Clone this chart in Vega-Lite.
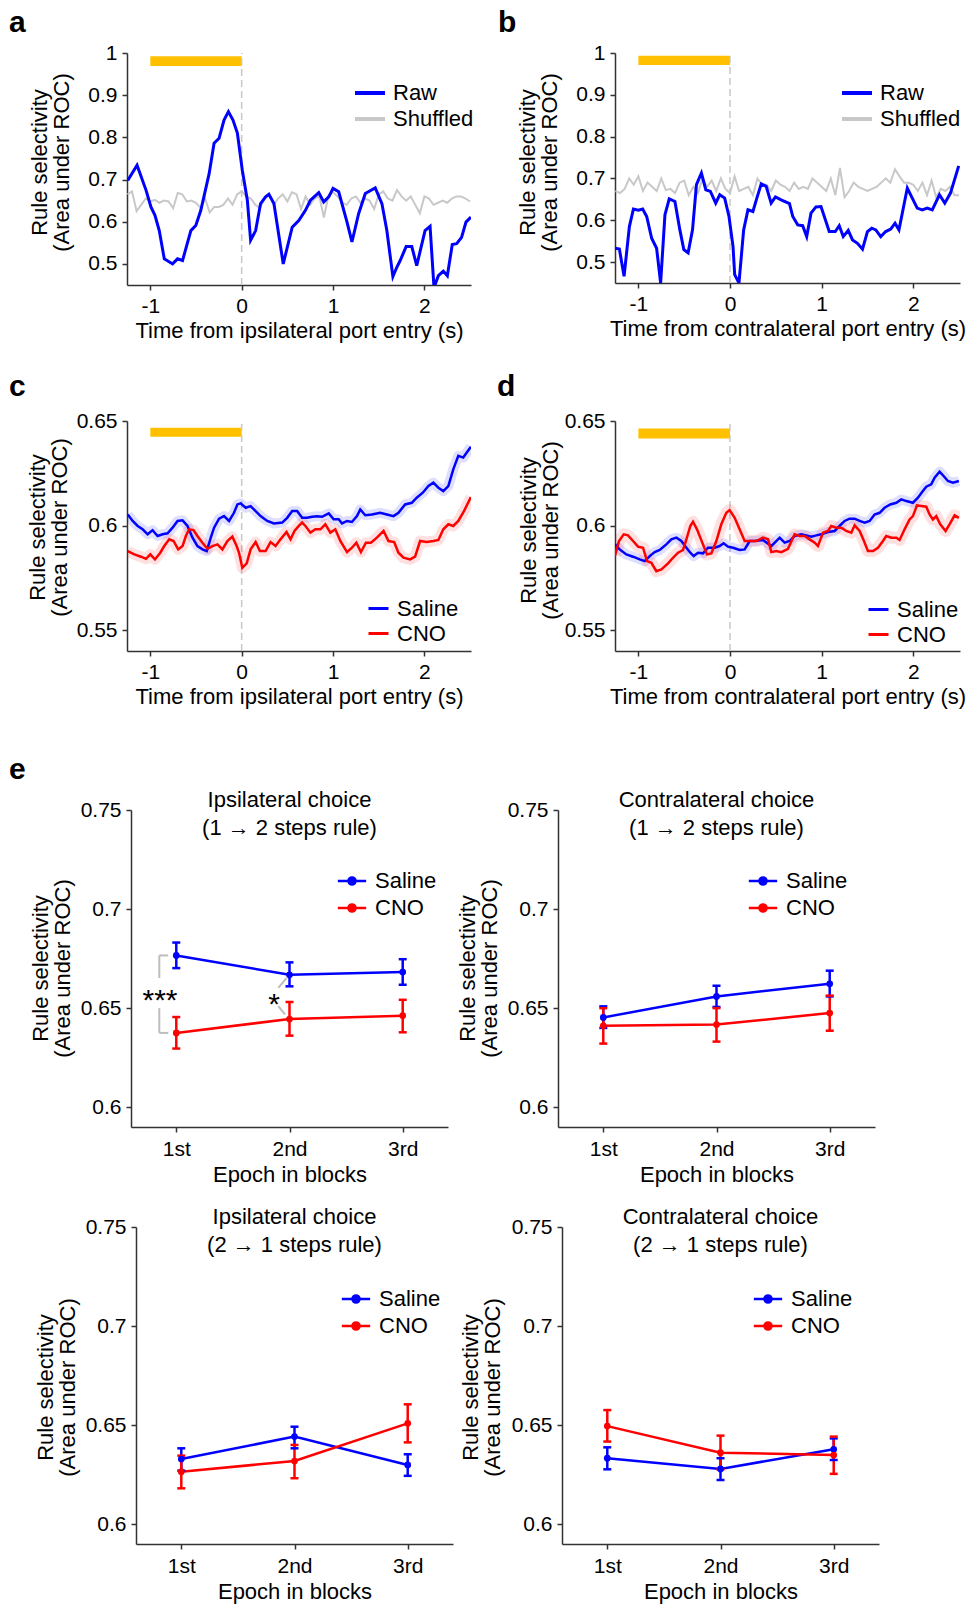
{
"$schema": "https://vega.github.io/schema/vega-lite/v6.json",
"background": "white",
"padding": {"left": 9, "top": 8, "right": 4, "bottom": 4},
"config": {
 "font": "Liberation Sans",
 "view": {"stroke": null},
 "axis": {"domainColor": "#333333", "domainWidth": 1.5, "tickColor": "#333333", "tickWidth": 1.5, "tickSize": 5, "labelFont": "Liberation Sans", "labelFontSize": 21, "labelColor": "#000000", "titleFont": "Liberation Sans", "titleFontSize": 22, "titleFontWeight": "normal", "titleColor": "#000000", "grid": false, "labelPadding": 5, "titlePadding": 4, "labelFlush": false, "labelOverlap": false},
 "legend": {"labelFont": "Liberation Sans", "labelFontSize": 22, "labelColor": "#000000", "padding": 0},
 "title": {"font": "Liberation Sans", "fontSize": 22, "fontWeight": "normal", "color": "#000000"}
},
"datasets": {
 "a_raw": [{"t":-1.247,"v":0.698,"s":"Raw"},{"t":-1.145,"v":0.734,"s":"Raw"},{"t":-1.047,"v":0.675,"s":"Raw"},{"t":-0.993,"v":0.635,"s":"Raw"},{"t":-0.949,"v":0.615,"s":"Raw"},{"t":-0.902,"v":0.579,"s":"Raw"},{"t":-0.847,"v":0.512,"s":"Raw"},{"t":-0.756,"v":0.5,"s":"Raw"},{"t":-0.702,"v":0.512,"s":"Raw"},{"t":-0.647,"v":0.508,"s":"Raw"},{"t":-0.556,"v":0.579,"s":"Raw"},{"t":-0.502,"v":0.591,"s":"Raw"},{"t":-0.447,"v":0.627,"s":"Raw"},{"t":-0.356,"v":0.714,"s":"Raw"},{"t":-0.302,"v":0.786,"s":"Raw"},{"t":-0.247,"v":0.798,"s":"Raw"},{"t":-0.193,"v":0.841,"s":"Raw"},{"t":-0.145,"v":0.861,"s":"Raw"},{"t":-0.095,"v":0.841,"s":"Raw"},{"t":-0.047,"v":0.81,"s":"Raw"},{"t":0.007,"v":0.722,"s":"Raw"},{"t":0.062,"v":0.651,"s":"Raw"},{"t":0.098,"v":0.556,"s":"Raw"},{"t":0.153,"v":0.579,"s":"Raw"},{"t":0.207,"v":0.643,"s":"Raw"},{"t":0.262,"v":0.659,"s":"Raw"},{"t":0.298,"v":0.665,"s":"Raw"},{"t":0.353,"v":0.643,"s":"Raw"},{"t":0.455,"v":0.5,"s":"Raw"},{"t":0.553,"v":0.587,"s":"Raw"},{"t":0.625,"v":0.603,"s":"Raw"},{"t":0.698,"v":0.627,"s":"Raw"},{"t":0.753,"v":0.651,"s":"Raw"},{"t":0.844,"v":0.669,"s":"Raw"},{"t":0.898,"v":0.647,"s":"Raw"},{"t":0.953,"v":0.659,"s":"Raw"},{"t":1.0,"v":0.679,"s":"Raw"},{"t":1.062,"v":0.671,"s":"Raw"},{"t":1.153,"v":0.599,"s":"Raw"},{"t":1.207,"v":0.552,"s":"Raw"},{"t":1.28,"v":0.619,"s":"Raw"},{"t":1.353,"v":0.667,"s":"Raw"},{"t":1.462,"v":0.68,"s":"Raw"},{"t":1.535,"v":0.643,"s":"Raw"},{"t":1.589,"v":0.579,"s":"Raw"},{"t":1.655,"v":0.47,"s":"Raw"},{"t":1.698,"v":0.492,"s":"Raw"},{"t":1.735,"v":0.508,"s":"Raw"},{"t":1.8,"v":0.541,"s":"Raw"},{"t":1.862,"v":0.541,"s":"Raw"},{"t":1.916,"v":0.496,"s":"Raw"},{"t":2.007,"v":0.579,"s":"Raw"},{"t":2.062,"v":0.589,"s":"Raw"},{"t":2.105,"v":0.444,"s":"Raw"},{"t":2.153,"v":0.472,"s":"Raw"},{"t":2.207,"v":0.483,"s":"Raw"},{"t":2.251,"v":0.472,"s":"Raw"},{"t":2.305,"v":0.546,"s":"Raw"},{"t":2.353,"v":0.548,"s":"Raw"},{"t":2.407,"v":0.563,"s":"Raw"},{"t":2.455,"v":0.599,"s":"Raw"},{"t":2.509,"v":0.611,"s":"Raw"}],
 "a_shuf": [{"t":-1.25,"v":0.665,"s":"Shuffled"},{"t":-1.2,"v":0.672,"s":"Shuffled"},{"t":-1.15,"v":0.625,"s":"Shuffled"},{"t":-1.1,"v":0.64,"s":"Shuffled"},{"t":-1.05,"v":0.655,"s":"Shuffled"},{"t":-1.0,"v":0.648,"s":"Shuffled"},{"t":-0.95,"v":0.652,"s":"Shuffled"},{"t":-0.9,"v":0.645,"s":"Shuffled"},{"t":-0.85,"v":0.65,"s":"Shuffled"},{"t":-0.8,"v":0.648,"s":"Shuffled"},{"t":-0.75,"v":0.632,"s":"Shuffled"},{"t":-0.7,"v":0.668,"s":"Shuffled"},{"t":-0.65,"v":0.665,"s":"Shuffled"},{"t":-0.6,"v":0.648,"s":"Shuffled"},{"t":-0.55,"v":0.65,"s":"Shuffled"},{"t":-0.5,"v":0.645,"s":"Shuffled"},{"t":-0.45,"v":0.633,"s":"Shuffled"},{"t":-0.4,"v":0.655,"s":"Shuffled"},{"t":-0.35,"v":0.622,"s":"Shuffled"},{"t":-0.3,"v":0.635,"s":"Shuffled"},{"t":-0.25,"v":0.635,"s":"Shuffled"},{"t":-0.2,"v":0.64,"s":"Shuffled"},{"t":-0.15,"v":0.655,"s":"Shuffled"},{"t":-0.1,"v":0.64,"s":"Shuffled"},{"t":-0.05,"v":0.665,"s":"Shuffled"},{"t":0.0,"v":0.672,"s":"Shuffled"},{"t":0.05,"v":0.66,"s":"Shuffled"},{"t":0.1,"v":0.655,"s":"Shuffled"},{"t":0.15,"v":0.64,"s":"Shuffled"},{"t":0.2,"v":0.632,"s":"Shuffled"},{"t":0.25,"v":0.655,"s":"Shuffled"},{"t":0.3,"v":0.665,"s":"Shuffled"},{"t":0.35,"v":0.64,"s":"Shuffled"},{"t":0.4,"v":0.655,"s":"Shuffled"},{"t":0.45,"v":0.665,"s":"Shuffled"},{"t":0.5,"v":0.648,"s":"Shuffled"},{"t":0.55,"v":0.67,"s":"Shuffled"},{"t":0.6,"v":0.665,"s":"Shuffled"},{"t":0.65,"v":0.63,"s":"Shuffled"},{"t":0.7,"v":0.66,"s":"Shuffled"},{"t":0.75,"v":0.64,"s":"Shuffled"},{"t":0.8,"v":0.655,"s":"Shuffled"},{"t":0.85,"v":0.66,"s":"Shuffled"},{"t":0.9,"v":0.61,"s":"Shuffled"},{"t":0.95,"v":0.662,"s":"Shuffled"},{"t":1.0,"v":0.67,"s":"Shuffled"},{"t":1.05,"v":0.66,"s":"Shuffled"},{"t":1.1,"v":0.645,"s":"Shuffled"},{"t":1.15,"v":0.64,"s":"Shuffled"},{"t":1.2,"v":0.655,"s":"Shuffled"},{"t":1.25,"v":0.66,"s":"Shuffled"},{"t":1.3,"v":0.645,"s":"Shuffled"},{"t":1.35,"v":0.655,"s":"Shuffled"},{"t":1.4,"v":0.65,"s":"Shuffled"},{"t":1.45,"v":0.63,"s":"Shuffled"},{"t":1.5,"v":0.665,"s":"Shuffled"},{"t":1.55,"v":0.672,"s":"Shuffled"},{"t":1.6,"v":0.655,"s":"Shuffled"},{"t":1.65,"v":0.65,"s":"Shuffled"},{"t":1.7,"v":0.675,"s":"Shuffled"},{"t":1.75,"v":0.66,"s":"Shuffled"},{"t":1.8,"v":0.65,"s":"Shuffled"},{"t":1.85,"v":0.66,"s":"Shuffled"},{"t":1.9,"v":0.64,"s":"Shuffled"},{"t":1.95,"v":0.62,"s":"Shuffled"},{"t":2.0,"v":0.66,"s":"Shuffled"},{"t":2.05,"v":0.655,"s":"Shuffled"},{"t":2.1,"v":0.64,"s":"Shuffled"},{"t":2.15,"v":0.645,"s":"Shuffled"},{"t":2.2,"v":0.65,"s":"Shuffled"},{"t":2.25,"v":0.645,"s":"Shuffled"},{"t":2.3,"v":0.655,"s":"Shuffled"},{"t":2.35,"v":0.66,"s":"Shuffled"},{"t":2.4,"v":0.66,"s":"Shuffled"},{"t":2.45,"v":0.655,"s":"Shuffled"},{"t":2.5,"v":0.648,"s":"Shuffled"}],
 "b_raw": [{"t":-1.254,"v":0.533,"s":"Raw"},{"t":-1.207,"v":0.531,"s":"Raw"},{"t":-1.156,"v":0.466,"s":"Raw"},{"t":-1.098,"v":0.585,"s":"Raw"},{"t":-1.054,"v":0.627,"s":"Raw"},{"t":-1.0,"v":0.624,"s":"Raw"},{"t":-0.953,"v":0.627,"s":"Raw"},{"t":-0.909,"v":0.609,"s":"Raw"},{"t":-0.855,"v":0.557,"s":"Raw"},{"t":-0.801,"v":0.533,"s":"Raw"},{"t":-0.757,"v":0.45,"s":"Raw"},{"t":-0.71,"v":0.613,"s":"Raw"},{"t":-0.663,"v":0.651,"s":"Raw"},{"t":-0.601,"v":0.645,"s":"Raw"},{"t":-0.547,"v":0.577,"s":"Raw"},{"t":-0.504,"v":0.53,"s":"Raw"},{"t":-0.457,"v":0.522,"s":"Raw"},{"t":-0.409,"v":0.577,"s":"Raw"},{"t":-0.366,"v":0.685,"s":"Raw"},{"t":-0.312,"v":0.713,"s":"Raw"},{"t":-0.264,"v":0.673,"s":"Raw"},{"t":-0.214,"v":0.669,"s":"Raw"},{"t":-0.156,"v":0.641,"s":"Raw"},{"t":-0.112,"v":0.661,"s":"Raw"},{"t":-0.058,"v":0.653,"s":"Raw"},{"t":-0.011,"v":0.609,"s":"Raw"},{"t":0.033,"v":0.537,"s":"Raw"},{"t":0.051,"v":0.47,"s":"Raw"},{"t":0.098,"v":0.45,"s":"Raw"},{"t":0.149,"v":0.577,"s":"Raw"},{"t":0.196,"v":0.625,"s":"Raw"},{"t":0.25,"v":0.621,"s":"Raw"},{"t":0.293,"v":0.653,"s":"Raw"},{"t":0.341,"v":0.687,"s":"Raw"},{"t":0.395,"v":0.681,"s":"Raw"},{"t":0.449,"v":0.641,"s":"Raw"},{"t":0.496,"v":0.656,"s":"Raw"},{"t":0.558,"v":0.649,"s":"Raw"},{"t":0.649,"v":0.64,"s":"Raw"},{"t":0.685,"v":0.609,"s":"Raw"},{"t":0.739,"v":0.589,"s":"Raw"},{"t":0.793,"v":0.587,"s":"Raw"},{"t":0.837,"v":0.561,"s":"Raw"},{"t":0.884,"v":0.617,"s":"Raw"},{"t":0.938,"v":0.632,"s":"Raw"},{"t":0.993,"v":0.633,"s":"Raw"},{"t":1.083,"v":0.573,"s":"Raw"},{"t":1.149,"v":0.573,"s":"Raw"},{"t":1.192,"v":0.587,"s":"Raw"},{"t":1.236,"v":0.561,"s":"Raw"},{"t":1.29,"v":0.576,"s":"Raw"},{"t":1.337,"v":0.553,"s":"Raw"},{"t":1.391,"v":0.545,"s":"Raw"},{"t":1.446,"v":0.531,"s":"Raw"},{"t":1.5,"v":0.573,"s":"Raw"},{"t":1.547,"v":0.581,"s":"Raw"},{"t":1.591,"v":0.577,"s":"Raw"},{"t":1.645,"v":0.561,"s":"Raw"},{"t":1.699,"v":0.573,"s":"Raw"},{"t":1.754,"v":0.579,"s":"Raw"},{"t":1.801,"v":0.593,"s":"Raw"},{"t":1.844,"v":0.577,"s":"Raw"},{"t":1.935,"v":0.677,"s":"Raw"},{"t":1.989,"v":0.653,"s":"Raw"},{"t":2.043,"v":0.629,"s":"Raw"},{"t":2.098,"v":0.625,"s":"Raw"},{"t":2.152,"v":0.629,"s":"Raw"},{"t":2.207,"v":0.625,"s":"Raw"},{"t":2.286,"v":0.661,"s":"Raw"},{"t":2.344,"v":0.641,"s":"Raw"},{"t":2.406,"v":0.665,"s":"Raw"},{"t":2.496,"v":0.73,"s":"Raw"}],
 "b_shuf": [{"t":-1.25,"v":0.67,"s":"Shuffled"},{"t":-1.2,"v":0.665,"s":"Shuffled"},{"t":-1.15,"v":0.675,"s":"Shuffled"},{"t":-1.1,"v":0.7,"s":"Shuffled"},{"t":-1.05,"v":0.685,"s":"Shuffled"},{"t":-1.0,"v":0.705,"s":"Shuffled"},{"t":-0.95,"v":0.67,"s":"Shuffled"},{"t":-0.9,"v":0.69,"s":"Shuffled"},{"t":-0.85,"v":0.68,"s":"Shuffled"},{"t":-0.8,"v":0.67,"s":"Shuffled"},{"t":-0.75,"v":0.7,"s":"Shuffled"},{"t":-0.7,"v":0.672,"s":"Shuffled"},{"t":-0.65,"v":0.675,"s":"Shuffled"},{"t":-0.6,"v":0.665,"s":"Shuffled"},{"t":-0.55,"v":0.69,"s":"Shuffled"},{"t":-0.5,"v":0.695,"s":"Shuffled"},{"t":-0.45,"v":0.66,"s":"Shuffled"},{"t":-0.4,"v":0.68,"s":"Shuffled"},{"t":-0.35,"v":0.665,"s":"Shuffled"},{"t":-0.3,"v":0.7,"s":"Shuffled"},{"t":-0.25,"v":0.68,"s":"Shuffled"},{"t":-0.2,"v":0.695,"s":"Shuffled"},{"t":-0.15,"v":0.67,"s":"Shuffled"},{"t":-0.1,"v":0.7,"s":"Shuffled"},{"t":-0.05,"v":0.675,"s":"Shuffled"},{"t":0.0,"v":0.665,"s":"Shuffled"},{"t":0.05,"v":0.705,"s":"Shuffled"},{"t":0.1,"v":0.67,"s":"Shuffled"},{"t":0.15,"v":0.675,"s":"Shuffled"},{"t":0.2,"v":0.68,"s":"Shuffled"},{"t":0.25,"v":0.66,"s":"Shuffled"},{"t":0.3,"v":0.7,"s":"Shuffled"},{"t":0.35,"v":0.685,"s":"Shuffled"},{"t":0.4,"v":0.685,"s":"Shuffled"},{"t":0.45,"v":0.67,"s":"Shuffled"},{"t":0.5,"v":0.695,"s":"Shuffled"},{"t":0.55,"v":0.685,"s":"Shuffled"},{"t":0.6,"v":0.68,"s":"Shuffled"},{"t":0.65,"v":0.67,"s":"Shuffled"},{"t":0.7,"v":0.69,"s":"Shuffled"},{"t":0.75,"v":0.675,"s":"Shuffled"},{"t":0.8,"v":0.68,"s":"Shuffled"},{"t":0.85,"v":0.675,"s":"Shuffled"},{"t":0.9,"v":0.7,"s":"Shuffled"},{"t":0.95,"v":0.69,"s":"Shuffled"},{"t":1.0,"v":0.68,"s":"Shuffled"},{"t":1.05,"v":0.67,"s":"Shuffled"},{"t":1.1,"v":0.7,"s":"Shuffled"},{"t":1.15,"v":0.66,"s":"Shuffled"},{"t":1.2,"v":0.725,"s":"Shuffled"},{"t":1.25,"v":0.655,"s":"Shuffled"},{"t":1.3,"v":0.67,"s":"Shuffled"},{"t":1.35,"v":0.69,"s":"Shuffled"},{"t":1.4,"v":0.68,"s":"Shuffled"},{"t":1.45,"v":0.675,"s":"Shuffled"},{"t":1.5,"v":0.67,"s":"Shuffled"},{"t":1.55,"v":0.675,"s":"Shuffled"},{"t":1.6,"v":0.68,"s":"Shuffled"},{"t":1.65,"v":0.69,"s":"Shuffled"},{"t":1.7,"v":0.7,"s":"Shuffled"},{"t":1.75,"v":0.69,"s":"Shuffled"},{"t":1.8,"v":0.722,"s":"Shuffled"},{"t":1.85,"v":0.705,"s":"Shuffled"},{"t":1.9,"v":0.69,"s":"Shuffled"},{"t":1.95,"v":0.69,"s":"Shuffled"},{"t":2.0,"v":0.685,"s":"Shuffled"},{"t":2.05,"v":0.67,"s":"Shuffled"},{"t":2.1,"v":0.69,"s":"Shuffled"},{"t":2.15,"v":0.66,"s":"Shuffled"},{"t":2.2,"v":0.695,"s":"Shuffled"},{"t":2.25,"v":0.655,"s":"Shuffled"},{"t":2.3,"v":0.675,"s":"Shuffled"},{"t":2.35,"v":0.67,"s":"Shuffled"},{"t":2.4,"v":0.68,"s":"Shuffled"},{"t":2.45,"v":0.66,"s":"Shuffled"},{"t":2.5,"v":0.66,"s":"Shuffled"}],
 "c_sal": [{"t":-1.247,"v":0.6053,"s":"Saline"},{"t":-1.193,"v":0.6022,"s":"Saline"},{"t":-1.138,"v":0.5998,"s":"Saline"},{"t":-1.084,"v":0.5982,"s":"Saline"},{"t":-1.029,"v":0.5958,"s":"Saline"},{"t":-0.975,"v":0.5978,"s":"Saline"},{"t":-0.92,"v":0.595,"s":"Saline"},{"t":-0.865,"v":0.5958,"s":"Saline"},{"t":-0.811,"v":0.5963,"s":"Saline"},{"t":-0.756,"v":0.599,"s":"Saline"},{"t":-0.702,"v":0.6022,"s":"Saline"},{"t":-0.647,"v":0.6025,"s":"Saline"},{"t":-0.593,"v":0.5998,"s":"Saline"},{"t":-0.538,"v":0.5942,"s":"Saline"},{"t":-0.484,"v":0.5902,"s":"Saline"},{"t":-0.429,"v":0.5886,"s":"Saline"},{"t":-0.382,"v":0.5878,"s":"Saline"},{"t":-0.338,"v":0.5942,"s":"Saline"},{"t":-0.302,"v":0.599,"s":"Saline"},{"t":-0.247,"v":0.6033,"s":"Saline"},{"t":-0.193,"v":0.6045,"s":"Saline"},{"t":-0.138,"v":0.6022,"s":"Saline"},{"t":-0.084,"v":0.6061,"s":"Saline"},{"t":-0.047,"v":0.6101,"s":"Saline"},{"t":-0.011,"v":0.6106,"s":"Saline"},{"t":0.044,"v":0.6085,"s":"Saline"},{"t":0.098,"v":0.6093,"s":"Saline"},{"t":0.153,"v":0.6069,"s":"Saline"},{"t":0.207,"v":0.6045,"s":"Saline"},{"t":0.28,"v":0.6022,"s":"Saline"},{"t":0.353,"v":0.601,"s":"Saline"},{"t":0.444,"v":0.6014,"s":"Saline"},{"t":0.498,"v":0.6037,"s":"Saline"},{"t":0.553,"v":0.6069,"s":"Saline"},{"t":0.607,"v":0.6069,"s":"Saline"},{"t":0.662,"v":0.6037,"s":"Saline"},{"t":0.716,"v":0.6037,"s":"Saline"},{"t":0.771,"v":0.6042,"s":"Saline"},{"t":0.825,"v":0.6045,"s":"Saline"},{"t":0.88,"v":0.6042,"s":"Saline"},{"t":0.953,"v":0.6058,"s":"Saline"},{"t":1.007,"v":0.603,"s":"Saline"},{"t":1.062,"v":0.603,"s":"Saline"},{"t":1.098,"v":0.601,"s":"Saline"},{"t":1.153,"v":0.6022,"s":"Saline"},{"t":1.207,"v":0.6017,"s":"Saline"},{"t":1.262,"v":0.6045,"s":"Saline"},{"t":1.298,"v":0.6077,"s":"Saline"},{"t":1.353,"v":0.6049,"s":"Saline"},{"t":1.425,"v":0.6053,"s":"Saline"},{"t":1.516,"v":0.6061,"s":"Saline"},{"t":1.589,"v":0.6053,"s":"Saline"},{"t":1.662,"v":0.6045,"s":"Saline"},{"t":1.716,"v":0.6061,"s":"Saline"},{"t":1.789,"v":0.6101,"s":"Saline"},{"t":1.862,"v":0.6109,"s":"Saline"},{"t":1.916,"v":0.6133,"s":"Saline"},{"t":1.982,"v":0.6157,"s":"Saline"},{"t":2.044,"v":0.6189,"s":"Saline"},{"t":2.098,"v":0.6205,"s":"Saline"},{"t":2.153,"v":0.6181,"s":"Saline"},{"t":2.207,"v":0.6165,"s":"Saline"},{"t":2.262,"v":0.6189,"s":"Saline"},{"t":2.316,"v":0.6269,"s":"Saline"},{"t":2.371,"v":0.6333,"s":"Saline"},{"t":2.425,"v":0.6325,"s":"Saline"},{"t":2.462,"v":0.6348,"s":"Saline"},{"t":2.509,"v":0.6377,"s":"Saline"}],
 "c_cno": [{"t":-1.247,"v":0.5878,"s":"CNO"},{"t":-1.175,"v":0.5862,"s":"CNO"},{"t":-1.102,"v":0.5851,"s":"CNO"},{"t":-1.047,"v":0.5841,"s":"CNO"},{"t":-1.0,"v":0.5862,"s":"CNO"},{"t":-0.949,"v":0.5838,"s":"CNO"},{"t":-0.891,"v":0.587,"s":"CNO"},{"t":-0.847,"v":0.5902,"s":"CNO"},{"t":-0.793,"v":0.5934,"s":"CNO"},{"t":-0.745,"v":0.5926,"s":"CNO"},{"t":-0.695,"v":0.5886,"s":"CNO"},{"t":-0.647,"v":0.5902,"s":"CNO"},{"t":-0.611,"v":0.595,"s":"CNO"},{"t":-0.575,"v":0.5982,"s":"CNO"},{"t":-0.527,"v":0.5978,"s":"CNO"},{"t":-0.484,"v":0.595,"s":"CNO"},{"t":-0.429,"v":0.5918,"s":"CNO"},{"t":-0.375,"v":0.5889,"s":"CNO"},{"t":-0.32,"v":0.5902,"s":"CNO"},{"t":-0.265,"v":0.591,"s":"CNO"},{"t":-0.211,"v":0.5886,"s":"CNO"},{"t":-0.156,"v":0.5926,"s":"CNO"},{"t":-0.102,"v":0.5947,"s":"CNO"},{"t":-0.055,"v":0.5902,"s":"CNO"},{"t":-0.029,"v":0.587,"s":"CNO"},{"t":0.007,"v":0.5798,"s":"CNO"},{"t":0.055,"v":0.5819,"s":"CNO"},{"t":0.098,"v":0.5886,"s":"CNO"},{"t":0.153,"v":0.5921,"s":"CNO"},{"t":0.2,"v":0.5878,"s":"CNO"},{"t":0.262,"v":0.5878,"s":"CNO"},{"t":0.316,"v":0.5921,"s":"CNO"},{"t":0.371,"v":0.5902,"s":"CNO"},{"t":0.425,"v":0.5934,"s":"CNO"},{"t":0.491,"v":0.5969,"s":"CNO"},{"t":0.535,"v":0.5934,"s":"CNO"},{"t":0.578,"v":0.5974,"s":"CNO"},{"t":0.625,"v":0.5998,"s":"CNO"},{"t":0.662,"v":0.6014,"s":"CNO"},{"t":0.698,"v":0.5998,"s":"CNO"},{"t":0.753,"v":0.5966,"s":"CNO"},{"t":0.807,"v":0.5982,"s":"CNO"},{"t":0.862,"v":0.5982,"s":"CNO"},{"t":0.916,"v":0.6006,"s":"CNO"},{"t":0.971,"v":0.5966,"s":"CNO"},{"t":1.025,"v":0.5982,"s":"CNO"},{"t":1.08,"v":0.5926,"s":"CNO"},{"t":1.153,"v":0.5873,"s":"CNO"},{"t":1.207,"v":0.5894,"s":"CNO"},{"t":1.255,"v":0.5918,"s":"CNO"},{"t":1.305,"v":0.5873,"s":"CNO"},{"t":1.36,"v":0.5918,"s":"CNO"},{"t":1.415,"v":0.5918,"s":"CNO"},{"t":1.48,"v":0.5942,"s":"CNO"},{"t":1.553,"v":0.5974,"s":"CNO"},{"t":1.607,"v":0.5926,"s":"CNO"},{"t":1.669,"v":0.5921,"s":"CNO"},{"t":1.716,"v":0.587,"s":"CNO"},{"t":1.771,"v":0.5846,"s":"CNO"},{"t":1.844,"v":0.5838,"s":"CNO"},{"t":1.898,"v":0.5851,"s":"CNO"},{"t":1.953,"v":0.5926,"s":"CNO"},{"t":2.025,"v":0.5921,"s":"CNO"},{"t":2.098,"v":0.5926,"s":"CNO"},{"t":2.153,"v":0.5931,"s":"CNO"},{"t":2.207,"v":0.5982,"s":"CNO"},{"t":2.262,"v":0.6006,"s":"CNO"},{"t":2.316,"v":0.5998,"s":"CNO"},{"t":2.371,"v":0.6022,"s":"CNO"},{"t":2.433,"v":0.6069,"s":"CNO"},{"t":2.509,"v":0.6136,"s":"CNO"}],
 "d_sal": [{"t":-1.255,"v":0.591,"s":"Saline"},{"t":-1.204,"v":0.5886,"s":"Saline"},{"t":-1.131,"v":0.5862,"s":"Saline"},{"t":-1.058,"v":0.5851,"s":"Saline"},{"t":-0.985,"v":0.5838,"s":"Saline"},{"t":-0.931,"v":0.583,"s":"Saline"},{"t":-0.876,"v":0.5854,"s":"Saline"},{"t":-0.822,"v":0.5873,"s":"Saline"},{"t":-0.767,"v":0.5883,"s":"Saline"},{"t":-0.695,"v":0.591,"s":"Saline"},{"t":-0.64,"v":0.5934,"s":"Saline"},{"t":-0.585,"v":0.5942,"s":"Saline"},{"t":-0.531,"v":0.5926,"s":"Saline"},{"t":-0.476,"v":0.5894,"s":"Saline"},{"t":-0.433,"v":0.587,"s":"Saline"},{"t":-0.396,"v":0.5854,"s":"Saline"},{"t":-0.349,"v":0.587,"s":"Saline"},{"t":-0.295,"v":0.5867,"s":"Saline"},{"t":-0.24,"v":0.5894,"s":"Saline"},{"t":-0.167,"v":0.5894,"s":"Saline"},{"t":-0.113,"v":0.5902,"s":"Saline"},{"t":-0.069,"v":0.5915,"s":"Saline"},{"t":-0.022,"v":0.5899,"s":"Saline"},{"t":0.033,"v":0.5894,"s":"Saline"},{"t":0.105,"v":0.5883,"s":"Saline"},{"t":0.16,"v":0.5886,"s":"Saline"},{"t":0.215,"v":0.5926,"s":"Saline"},{"t":0.269,"v":0.5926,"s":"Saline"},{"t":0.36,"v":0.5931,"s":"Saline"},{"t":0.451,"v":0.5902,"s":"Saline"},{"t":0.505,"v":0.5926,"s":"Saline"},{"t":0.542,"v":0.5942,"s":"Saline"},{"t":0.596,"v":0.5918,"s":"Saline"},{"t":0.651,"v":0.5926,"s":"Saline"},{"t":0.705,"v":0.595,"s":"Saline"},{"t":0.778,"v":0.5958,"s":"Saline"},{"t":0.833,"v":0.5953,"s":"Saline"},{"t":0.887,"v":0.5947,"s":"Saline"},{"t":0.942,"v":0.5953,"s":"Saline"},{"t":0.996,"v":0.5958,"s":"Saline"},{"t":1.069,"v":0.5969,"s":"Saline"},{"t":1.142,"v":0.5974,"s":"Saline"},{"t":1.196,"v":0.5998,"s":"Saline"},{"t":1.251,"v":0.6022,"s":"Saline"},{"t":1.305,"v":0.6033,"s":"Saline"},{"t":1.36,"v":0.6033,"s":"Saline"},{"t":1.415,"v":0.6022,"s":"Saline"},{"t":1.469,"v":0.6014,"s":"Saline"},{"t":1.524,"v":0.6022,"s":"Saline"},{"t":1.578,"v":0.6053,"s":"Saline"},{"t":1.633,"v":0.6061,"s":"Saline"},{"t":1.687,"v":0.6085,"s":"Saline"},{"t":1.749,"v":0.6101,"s":"Saline"},{"t":1.815,"v":0.6109,"s":"Saline"},{"t":1.869,"v":0.6125,"s":"Saline"},{"t":1.924,"v":0.6117,"s":"Saline"},{"t":1.996,"v":0.6109,"s":"Saline"},{"t":2.051,"v":0.6133,"s":"Saline"},{"t":2.105,"v":0.6165,"s":"Saline"},{"t":2.142,"v":0.6186,"s":"Saline"},{"t":2.196,"v":0.6197,"s":"Saline"},{"t":2.233,"v":0.6229,"s":"Saline"},{"t":2.287,"v":0.6258,"s":"Saline"},{"t":2.331,"v":0.6237,"s":"Saline"},{"t":2.378,"v":0.6213,"s":"Saline"},{"t":2.433,"v":0.6205,"s":"Saline"},{"t":2.498,"v":0.6213,"s":"Saline"}],
 "d_cno": [{"t":-1.255,"v":0.5857,"s":"CNO"},{"t":-1.211,"v":0.5926,"s":"CNO"},{"t":-1.16,"v":0.5958,"s":"CNO"},{"t":-1.113,"v":0.5953,"s":"CNO"},{"t":-1.058,"v":0.5926,"s":"CNO"},{"t":-1.004,"v":0.5899,"s":"CNO"},{"t":-0.949,"v":0.5894,"s":"CNO"},{"t":-0.905,"v":0.583,"s":"CNO"},{"t":-0.858,"v":0.5822,"s":"CNO"},{"t":-0.804,"v":0.5782,"s":"CNO"},{"t":-0.749,"v":0.579,"s":"CNO"},{"t":-0.676,"v":0.5819,"s":"CNO"},{"t":-0.622,"v":0.5846,"s":"CNO"},{"t":-0.567,"v":0.587,"s":"CNO"},{"t":-0.513,"v":0.5883,"s":"CNO"},{"t":-0.476,"v":0.5934,"s":"CNO"},{"t":-0.433,"v":0.5998,"s":"CNO"},{"t":-0.404,"v":0.6018,"s":"CNO"},{"t":-0.36,"v":0.5982,"s":"CNO"},{"t":-0.295,"v":0.591,"s":"CNO"},{"t":-0.251,"v":0.5862,"s":"CNO"},{"t":-0.204,"v":0.5867,"s":"CNO"},{"t":-0.149,"v":0.5926,"s":"CNO"},{"t":-0.095,"v":0.6006,"s":"CNO"},{"t":-0.04,"v":0.6061,"s":"CNO"},{"t":-0.004,"v":0.6074,"s":"CNO"},{"t":0.051,"v":0.6037,"s":"CNO"},{"t":0.105,"v":0.5982,"s":"CNO"},{"t":0.16,"v":0.5926,"s":"CNO"},{"t":0.215,"v":0.5926,"s":"CNO"},{"t":0.287,"v":0.5926,"s":"CNO"},{"t":0.36,"v":0.5942,"s":"CNO"},{"t":0.415,"v":0.5934,"s":"CNO"},{"t":0.451,"v":0.5873,"s":"CNO"},{"t":0.505,"v":0.5878,"s":"CNO"},{"t":0.56,"v":0.5873,"s":"CNO"},{"t":0.633,"v":0.5889,"s":"CNO"},{"t":0.705,"v":0.5958,"s":"CNO"},{"t":0.76,"v":0.595,"s":"CNO"},{"t":0.815,"v":0.595,"s":"CNO"},{"t":0.869,"v":0.5934,"s":"CNO"},{"t":0.924,"v":0.5918,"s":"CNO"},{"t":0.96,"v":0.5902,"s":"CNO"},{"t":1.015,"v":0.5966,"s":"CNO"},{"t":1.069,"v":0.5974,"s":"CNO"},{"t":1.105,"v":0.5998,"s":"CNO"},{"t":1.16,"v":0.599,"s":"CNO"},{"t":1.215,"v":0.599,"s":"CNO"},{"t":1.269,"v":0.5974,"s":"CNO"},{"t":1.324,"v":0.5966,"s":"CNO"},{"t":1.36,"v":0.6001,"s":"CNO"},{"t":1.415,"v":0.5974,"s":"CNO"},{"t":1.462,"v":0.5926,"s":"CNO"},{"t":1.505,"v":0.5878,"s":"CNO"},{"t":1.56,"v":0.5878,"s":"CNO"},{"t":1.615,"v":0.5894,"s":"CNO"},{"t":1.669,"v":0.5926,"s":"CNO"},{"t":1.705,"v":0.595,"s":"CNO"},{"t":1.76,"v":0.5942,"s":"CNO"},{"t":1.815,"v":0.5942,"s":"CNO"},{"t":1.851,"v":0.5931,"s":"CNO"},{"t":1.905,"v":0.5982,"s":"CNO"},{"t":1.96,"v":0.6029,"s":"CNO"},{"t":1.996,"v":0.6045,"s":"CNO"},{"t":2.04,"v":0.6096,"s":"CNO"},{"t":2.087,"v":0.6093,"s":"CNO"},{"t":2.142,"v":0.609,"s":"CNO"},{"t":2.178,"v":0.6053,"s":"CNO"},{"t":2.215,"v":0.6029,"s":"CNO"},{"t":2.251,"v":0.6045,"s":"CNO"},{"t":2.295,"v":0.6006,"s":"CNO"},{"t":2.353,"v":0.5974,"s":"CNO"},{"t":2.396,"v":0.6006,"s":"CNO"},{"t":2.451,"v":0.6049,"s":"CNO"},{"t":2.498,"v":0.6037,"s":"CNO"}],
 "e1": [{"g":"Saline","epoch":1,"m":0.6766,"lo":0.6702,"hi":0.6831},{"g":"Saline","epoch":2,"m":0.6668,"lo":0.661,"hi":0.6731},{"g":"Saline","epoch":3,"m":0.6682,"lo":0.6618,"hi":0.6747},{"g":"CNO","epoch":1,"m":0.6375,"lo":0.6296,"hi":0.6455},{"g":"CNO","epoch":2,"m":0.6445,"lo":0.6361,"hi":0.6531},{"g":"CNO","epoch":3,"m":0.6462,"lo":0.6378,"hi":0.6542}],
 "e2": [{"g":"Saline","epoch":1,"m":0.6453,"lo":0.64,"hi":0.6509},{"g":"Saline","epoch":2,"m":0.6559,"lo":0.6506,"hi":0.6613},{"g":"Saline","epoch":3,"m":0.6623,"lo":0.6559,"hi":0.6689},{"g":"CNO","epoch":1,"m":0.6411,"lo":0.6321,"hi":0.65},{"g":"CNO","epoch":2,"m":0.6417,"lo":0.6331,"hi":0.65},{"g":"CNO","epoch":3,"m":0.6475,"lo":0.6386,"hi":0.6563}],
 "e3": [{"g":"Saline","epoch":1,"m":0.6329,"lo":0.627,"hi":0.6383},{"g":"Saline","epoch":2,"m":0.6442,"lo":0.6383,"hi":0.6492},{"g":"Saline","epoch":3,"m":0.6299,"lo":0.6244,"hi":0.6353},{"g":"CNO","epoch":1,"m":0.6265,"lo":0.6181,"hi":0.6346},{"g":"CNO","epoch":2,"m":0.6319,"lo":0.6232,"hi":0.64},{"g":"CNO","epoch":3,"m":0.6509,"lo":0.6413,"hi":0.6605}],
 "e4": [{"g":"Saline","epoch":1,"m":0.6333,"lo":0.6277,"hi":0.6388},{"g":"Saline","epoch":2,"m":0.6279,"lo":0.6223,"hi":0.6333},{"g":"Saline","epoch":3,"m":0.6378,"lo":0.6324,"hi":0.6433},{"g":"CNO","epoch":1,"m":0.6495,"lo":0.6417,"hi":0.6576},{"g":"CNO","epoch":2,"m":0.6361,"lo":0.6277,"hi":0.6447},{"g":"CNO","epoch":3,"m":0.6349,"lo":0.6254,"hi":0.6442}]
},
"bounds": "flush",
"spacing": 757,
"resolve": {"scale": {"x": "independent", "y": "independent", "color": "independent"}, "axis": {"x": "independent", "y": "independent"}, "legend": {"color": "independent"}},
"vconcat": [
 {
  "bounds": "flush",
  "spacing": 368,
  "resolve": {"scale": {"x": "independent", "y": "independent", "color": "independent"}, "axis": {"x": "independent", "y": "independent"}, "legend": {"color": "independent"}},
  "vconcat": [
   {
    "bounds": "flush",
    "spacing": 144,
    "resolve": {"scale": {"x": "independent", "y": "independent", "color": "independent"}, "axis": {"x": "independent", "y": "independent"}, "legend": {"color": "independent"}},
    "hconcat": [
     {
      "width": 344, "height": 232,
      "title": {"text": "a", "anchor": "start", "frame": "group", "dx": -118, "offset": 4, "baseline": "top", "fontSize": 30, "fontWeight": "bold"},
      "encoding": {
       "x": {"field": "t", "type": "quantitative", "scale": {"domain": [-1.255, 2.51], "nice": false, "zero": false}, "axis": {"values": [-1, 0, 1, 2], "labelExpr": "datum.value < 0 ? '-' + abs(datum.value) : '' + datum.value", "title": "Time from ipsilateral port entry (s)"}},
       "y": {"field": "v", "type": "quantitative", "scale": {"domain": [0.45, 1], "nice": false, "zero": false}, "axis": {"values": [0.5, 0.6, 0.7, 0.8, 0.9, 1], "format": ".1~f", "title": ["Rule selectivity", "(Area under ROC)"], "titleX": -76, "titleY": 109, "titleAngle": -90, "titleBaseline": "bottom", "titleAlign": "center", "titleLineHeight": 22}}
      },
      "layer": [
       {"data": {"values": [{"t": -1, "t2": 0, "v": 0.969, "v2": 0.992}]}, "mark": {"type": "rect", "color": "#ffc000"}, "encoding": {"x2": {"field": "t2"}, "y2": {"field": "v2"}}},
       {"data": {"values": [{"t": 0, "v": 0.45, "v2": 1}]}, "mark": {"type": "rule", "color": "#c8c8c8", "strokeWidth": 1.5, "strokeDash": [7, 4]}, "encoding": {"y2": {"field": "v2"}}},
       {"data": {"name": "a_shuf"}, "mark": {"type": "line", "strokeWidth": 2, "clip": true}, "encoding": {"color": {"field": "s", "type": "nominal", "scale": {"domain": ["Raw", "Shuffled"], "range": ["#0000ff", "#c8c8c8"]}, "legend": {"title": null, "orient": "none", "legendX": 231, "legendY": 28, "symbolType": "M-1.5,0L1.5,0", "symbolSize": 400, "symbolStrokeWidth": 4, "labelOffset": 11, "rowPadding": 3, "encode": {"symbols": {"update": {"strokeWidth": {"value": 4}}}}}}}},
       {"data": {"name": "a_raw"}, "mark": {"type": "line", "strokeWidth": 3, "clip": true}, "encoding": {"color": {"field": "s", "type": "nominal", "scale": {"domain": ["Raw", "Shuffled"], "range": ["#0000ff", "#c8c8c8"]}}}}
      ]
     },
     {
      "width": 345, "height": 230,
      "title": {"text": "b", "anchor": "start", "frame": "group", "dx": -117, "offset": 4, "baseline": "top", "fontSize": 30, "fontWeight": "bold"},
      "encoding": {
       "x": {"field": "t", "type": "quantitative", "scale": {"domain": [-1.255, 2.51], "nice": false, "zero": false}, "axis": {"values": [-1, 0, 1, 2], "labelExpr": "datum.value < 0 ? '-' + abs(datum.value) : '' + datum.value", "title": "Time from contralateral port entry (s)"}},
       "y": {"field": "v", "type": "quantitative", "scale": {"domain": [0.45, 1], "nice": false, "zero": false}, "axis": {"values": [0.5, 0.6, 0.7, 0.8, 0.9, 1], "format": ".1~f", "title": ["Rule selectivity", "(Area under ROC)"], "titleX": -76, "titleY": 109, "titleAngle": -90, "titleBaseline": "bottom", "titleAlign": "center", "titleLineHeight": 22}}
      },
      "layer": [
       {"data": {"values": [{"t": -1, "t2": 0, "v": 0.9713, "v2": 0.9935}]}, "mark": {"type": "rect", "color": "#ffc000"}, "encoding": {"x2": {"field": "t2"}, "y2": {"field": "v2"}}},
       {"data": {"values": [{"t": 0, "v": 0.45, "v2": 1}]}, "mark": {"type": "rule", "color": "#c8c8c8", "strokeWidth": 1.5, "strokeDash": [7, 4]}, "encoding": {"y2": {"field": "v2"}}},
       {"data": {"name": "b_shuf"}, "mark": {"type": "line", "strokeWidth": 2, "clip": true}, "encoding": {"color": {"field": "s", "type": "nominal", "scale": {"domain": ["Raw", "Shuffled"], "range": ["#0000ff", "#c8c8c8"]}, "legend": {"title": null, "orient": "none", "legendX": 230, "legendY": 28, "symbolType": "M-1.5,0L1.5,0", "symbolSize": 400, "symbolStrokeWidth": 4, "labelOffset": 11, "rowPadding": 3, "encode": {"symbols": {"update": {"strokeWidth": {"value": 4}}}}}}}},
       {"data": {"name": "b_raw"}, "mark": {"type": "line", "strokeWidth": 3, "clip": true}, "encoding": {"color": {"field": "s", "type": "nominal", "scale": {"domain": ["Raw", "Shuffled"], "range": ["#0000ff", "#c8c8c8"]}}}}
      ]
     }
    ]
   },
   {
    "bounds": "flush",
    "spacing": 144,
    "resolve": {"scale": {"x": "independent", "y": "independent", "color": "independent"}, "axis": {"x": "independent", "y": "independent"}, "legend": {"color": "independent"}},
    "hconcat": [
     {
      "width": 344, "height": 230,
      "title": {"text": "c", "anchor": "start", "frame": "group", "dx": -118, "offset": 8.5, "baseline": "top", "fontSize": 30, "fontWeight": "bold"},
      "encoding": {
       "x": {"field": "t", "type": "quantitative", "scale": {"domain": [-1.255, 2.51], "nice": false, "zero": false}, "axis": {"values": [-1, 0, 1, 2], "labelExpr": "datum.value < 0 ? '-' + abs(datum.value) : '' + datum.value", "title": "Time from ipsilateral port entry (s)"}},
       "y": {"field": "v", "type": "quantitative", "scale": {"domain": [0.54, 0.65], "nice": false, "zero": false}, "axis": {"values": [0.55, 0.6, 0.65], "format": ".2~f", "title": ["Rule selectivity", "(Area under ROC)"], "titleX": -78, "titleY": 106, "titleAngle": -90, "titleBaseline": "bottom", "titleAlign": "center", "titleLineHeight": 22}}
      },
      "layer": [
       {"data": {"values": [{"t": -1, "t2": 0, "v": 0.6425, "v2": 0.6468}]}, "mark": {"type": "rect", "color": "#ffc000"}, "encoding": {"x2": {"field": "t2"}, "y2": {"field": "v2"}}},
       {"data": {"values": [{"t": 0, "v": 0.54, "v2": 0.65}]}, "mark": {"type": "rule", "color": "#c8c8c8", "strokeWidth": 1.5, "strokeDash": [7, 4]}, "encoding": {"y2": {"field": "v2"}}},
       {"data": {"name": "c_sal"}, "mark": {"type": "line", "strokeWidth": 10, "color": "#0000ff", "opacity": 0.13, "strokeJoin": "round", "clip": true}},
       {"data": {"name": "c_cno"}, "mark": {"type": "line", "strokeWidth": 11, "color": "#ff0000", "opacity": 0.12, "strokeJoin": "round", "clip": true}},
       {"data": {"name": "c_sal"}, "mark": {"type": "line", "strokeWidth": 2.5, "clip": true}, "encoding": {"color": {"field": "s", "type": "nominal", "scale": {"domain": ["Saline", "CNO"], "range": ["#0000ff", "#ff0000"]}, "legend": {"title": null, "orient": "none", "legendX": 240, "legendY": 176, "symbolType": "M-1,0L1,0", "symbolSize": 400, "symbolStrokeWidth": 3, "labelOffset": 7, "rowPadding": 2, "encode": {"symbols": {"update": {"strokeWidth": {"value": 3}}}}}}}},
       {"data": {"name": "c_cno"}, "mark": {"type": "line", "strokeWidth": 2.5, "clip": true}, "encoding": {"color": {"field": "s", "type": "nominal", "scale": {"domain": ["Saline", "CNO"], "range": ["#0000ff", "#ff0000"]}}}}
      ]
     },
     {
      "width": 345, "height": 230,
      "title": {"text": "d", "anchor": "start", "frame": "group", "dx": -118, "offset": 8.5, "baseline": "top", "fontSize": 30, "fontWeight": "bold"},
      "encoding": {
       "x": {"field": "t", "type": "quantitative", "scale": {"domain": [-1.255, 2.51], "nice": false, "zero": false}, "axis": {"values": [-1, 0, 1, 2], "labelExpr": "datum.value < 0 ? '-' + abs(datum.value) : '' + datum.value", "title": "Time from contralateral port entry (s)"}},
       "y": {"field": "v", "type": "quantitative", "scale": {"domain": [0.54, 0.65], "nice": false, "zero": false}, "axis": {"values": [0.55, 0.6, 0.65], "format": ".2~f", "title": ["Rule selectivity", "(Area under ROC)"], "titleX": -75, "titleY": 109, "titleAngle": -90, "titleBaseline": "bottom", "titleAlign": "center", "titleLineHeight": 22}}
      },
      "layer": [
       {"data": {"values": [{"t": -1, "t2": 0, "v": 0.6416, "v2": 0.6464}]}, "mark": {"type": "rect", "color": "#ffc000"}, "encoding": {"x2": {"field": "t2"}, "y2": {"field": "v2"}}},
       {"data": {"values": [{"t": 0, "v": 0.54, "v2": 0.65}]}, "mark": {"type": "rule", "color": "#c8c8c8", "strokeWidth": 1.5, "strokeDash": [7, 4]}, "encoding": {"y2": {"field": "v2"}}},
       {"data": {"name": "d_sal"}, "mark": {"type": "line", "strokeWidth": 10, "color": "#0000ff", "opacity": 0.13, "strokeJoin": "round", "clip": true}},
       {"data": {"name": "d_cno"}, "mark": {"type": "line", "strokeWidth": 12, "color": "#ff0000", "opacity": 0.12, "strokeJoin": "round", "clip": true}},
       {"data": {"name": "d_sal"}, "mark": {"type": "line", "strokeWidth": 2.5, "clip": true}, "encoding": {"color": {"field": "s", "type": "nominal", "scale": {"domain": ["Saline", "CNO"], "range": ["#0000ff", "#ff0000"]}, "legend": {"title": null, "orient": "none", "legendX": 252, "legendY": 177, "symbolType": "M-1,0L1,0", "symbolSize": 400, "symbolStrokeWidth": 3, "labelOffset": 7, "rowPadding": 2, "encode": {"symbols": {"update": {"strokeWidth": {"value": 3}}}}}}}},
       {"data": {"name": "d_cno"}, "mark": {"type": "line", "strokeWidth": 2.5, "clip": true}, "encoding": {"color": {"field": "s", "type": "nominal", "scale": {"domain": ["Saline", "CNO"], "range": ["#0000ff", "#ff0000"]}}}}
      ]
     }
    ]
   }
  ]
 },
 {
  "bounds": "flush",
  "spacing": 417,
  "resolve": {"scale": {"x": "independent", "y": "independent", "color": "independent"}, "axis": {"x": "independent", "y": "independent"}, "legend": {"color": "independent"}},
  "vconcat": [
   {
    "bounds": "flush",
    "spacing": 3,
    "resolve": {"scale": {"x": "independent", "y": "independent", "color": "independent"}, "axis": {"x": "independent", "y": "independent"}, "legend": {"color": "independent"}},
    "hconcat": [
     {
      "width": 1, "height": 1,
      "title": {"text": "e", "anchor": "start", "frame": "group", "dx": -118, "offset": 25.4, "baseline": "top", "fontSize": 30, "fontWeight": "bold"},
      "data": {"values": []},
      "mark": "point"
     },
     {
      "bounds": "flush",
      "spacing": 110,
      "resolve": {"scale": {"x": "independent", "y": "independent", "color": "independent"}, "axis": {"x": "independent", "y": "independent"}, "legend": {"color": "independent"}},
      "hconcat": [
       {
        "width": 317, "height": 317,
        "title": {"text": ["Ipsilateral choice", "(1 → 2 steps rule)"], "anchor": "middle", "frame": "group", "baseline": "top", "offset": -41.3, "lineHeight": 28, "fontSize": 22},
        "data": {"name": "e1"},
        "encoding": {
         "x": {"field": "epoch", "type": "quantitative", "scale": {"domain": [0.6, 3.4], "nice": false, "zero": false}, "axis": {"values": [1, 2, 3], "labelExpr": "datum.value == 1 ? '1st' : datum.value == 2 ? '2nd' : '3rd'", "title": "Epoch in blocks", "labelPadding": 6.5, "titlePadding": 5}},
         "y": {"field": "m", "type": "quantitative", "scale": {"domain": [0.59, 0.75], "nice": false, "zero": false}, "axis": {"values": [0.6, 0.65, 0.7, 0.75], "format": ".2~f", "title": ["Rule selectivity", "(Area under ROC)"], "titleX": -79, "titleY": 158, "titleAngle": -90, "titleBaseline": "bottom", "titleAlign": "center", "titleLineHeight": 22}},
         "color": {"field": "g", "type": "nominal", "scale": {"domain": ["Saline", "CNO"], "range": ["#0000ff", "#ff0000"]}, "legend": {"title": null, "orient": "none", "legendX": 210, "legendY": 60, "symbolType": "M-1.5,0L1.5,0M-0.375,0A0.375,0.375,0,1,1,0.375,0A0.375,0.375,0,1,1,-0.375,0Z", "symbolSize": 357, "symbolStrokeWidth": 2.5, "labelOffset": 12, "rowPadding": 5, "encode": {"symbols": {"update": {"strokeWidth": {"value": 2.5}, "fill": {"signal": "datum.value === 'Saline' ? '#0000ff' : '#ff0000'"}, "stroke": {"signal": "datum.value === 'Saline' ? '#0000ff' : '#ff0000'"}, "opacity": {"value": 1}, "fillOpacity": {"value": 1}}}}}}
        },
        "layer": [
         {"mark": {"type": "line", "strokeWidth": 2.5}},
         {"mark": {"type": "rule", "strokeWidth": 2.5}, "encoding": {"y": {"field": "lo", "type": "quantitative", "scale": {"domain": [0.59, 0.75], "nice": false, "zero": false}}, "y2": {"field": "hi"}}},
         {"mark": {"type": "tick", "orient": "horizontal", "size": 8, "thickness": 2.5, "opacity": 1}, "encoding": {"y": {"field": "lo", "type": "quantitative", "scale": {"domain": [0.59, 0.75], "nice": false, "zero": false}}}},
         {"mark": {"type": "tick", "orient": "horizontal", "size": 8, "thickness": 2.5, "opacity": 1}, "encoding": {"y": {"field": "hi", "type": "quantitative", "scale": {"domain": [0.59, 0.75], "nice": false, "zero": false}}}},
         {"mark": {"type": "point", "filled": true, "size": 45, "opacity": 1}},
         {"data": {"values": [{"epoch": 0.85, "epoch2": 0.929, "m": 0.6766, "m2": 0.6766}, {"epoch": 0.85, "epoch2": 0.85, "m": 0.6766, "m2": 0.6652}, {"epoch": 0.85, "epoch2": 0.85, "m": 0.65, "m2": 0.6375}, {"epoch": 0.85, "epoch2": 0.929, "m": 0.6375, "m2": 0.6375}, {"epoch": 1.975, "epoch2": 1.901, "m": 0.6653, "m2": 0.6602}, {"epoch": 1.901, "epoch2": 1.96, "m": 0.651, "m2": 0.6468}]}, "mark": {"type": "rule", "strokeWidth": 2}, "encoding": {"x2": {"field": "epoch2"}, "y2": {"field": "m2"}, "color": {"value": "#bdbdbd"}}},
         {"data": {"values": [{"epoch": 0.856, "m": 0.6493, "txt": "***"}, {"epoch": 1.864, "m": 0.6468, "txt": "*"}]}, "mark": {"type": "text", "fontSize": 30, "align": "center", "baseline": "alphabetic", "font": "Liberation Sans"}, "encoding": {"text": {"field": "txt"}, "color": {"value": "#000000"}}}
        ]
       },
       {
        "width": 317, "height": 317,
        "title": {"text": ["Contralateral choice", "(1 → 2 steps rule)"], "anchor": "middle", "frame": "group", "baseline": "top", "offset": -41.3, "lineHeight": 28, "fontSize": 22},
        "data": {"name": "e2"},
        "encoding": {
         "x": {"field": "epoch", "type": "quantitative", "scale": {"domain": [0.6, 3.4], "nice": false, "zero": false}, "axis": {"values": [1, 2, 3], "labelExpr": "datum.value == 1 ? '1st' : datum.value == 2 ? '2nd' : '3rd'", "title": "Epoch in blocks", "labelPadding": 6.5, "titlePadding": 5}},
         "y": {"field": "m", "type": "quantitative", "scale": {"domain": [0.59, 0.75], "nice": false, "zero": false}, "axis": {"values": [0.6, 0.65, 0.7, 0.75], "format": ".2~f", "title": ["Rule selectivity", "(Area under ROC)"], "titleX": -79, "titleY": 158, "titleAngle": -90, "titleBaseline": "bottom", "titleAlign": "center", "titleLineHeight": 22}},
         "color": {"field": "g", "type": "nominal", "scale": {"domain": ["Saline", "CNO"], "range": ["#0000ff", "#ff0000"]}, "legend": {"title": null, "orient": "none", "legendX": 194, "legendY": 60, "symbolType": "M-1.5,0L1.5,0M-0.375,0A0.375,0.375,0,1,1,0.375,0A0.375,0.375,0,1,1,-0.375,0Z", "symbolSize": 357, "symbolStrokeWidth": 2.5, "labelOffset": 12, "rowPadding": 5, "encode": {"symbols": {"update": {"strokeWidth": {"value": 2.5}, "fill": {"signal": "datum.value === 'Saline' ? '#0000ff' : '#ff0000'"}, "stroke": {"signal": "datum.value === 'Saline' ? '#0000ff' : '#ff0000'"}, "opacity": {"value": 1}, "fillOpacity": {"value": 1}}}}}}
        },
        "layer": [
         {"mark": {"type": "line", "strokeWidth": 2.5}},
         {"mark": {"type": "rule", "strokeWidth": 2.5}, "encoding": {"y": {"field": "lo", "type": "quantitative", "scale": {"domain": [0.59, 0.75], "nice": false, "zero": false}}, "y2": {"field": "hi"}}},
         {"mark": {"type": "tick", "orient": "horizontal", "size": 8, "thickness": 2.5, "opacity": 1}, "encoding": {"y": {"field": "lo", "type": "quantitative", "scale": {"domain": [0.59, 0.75], "nice": false, "zero": false}}}},
         {"mark": {"type": "tick", "orient": "horizontal", "size": 8, "thickness": 2.5, "opacity": 1}, "encoding": {"y": {"field": "hi", "type": "quantitative", "scale": {"domain": [0.59, 0.75], "nice": false, "zero": false}}}},
         {"mark": {"type": "point", "filled": true, "size": 45, "opacity": 1}}
        ]
       }
      ]
     }
    ]
   },
   {
    "bounds": "flush",
    "spacing": 8,
    "resolve": {"scale": {"x": "independent", "y": "independent", "color": "independent"}, "axis": {"x": "independent", "y": "independent"}, "legend": {"color": "independent"}},
    "hconcat": [
     {
      "width": 1, "height": 1,
      "data": {"values": []},
      "mark": "point"
     },
     {
      "bounds": "flush",
      "spacing": 109,
      "resolve": {"scale": {"x": "independent", "y": "independent", "color": "independent"}, "axis": {"x": "independent", "y": "independent"}, "legend": {"color": "independent"}},
      "hconcat": [
       {
        "width": 317, "height": 317,
        "title": {"text": ["Ipsilateral choice", "(2 → 1 steps rule)"], "anchor": "middle", "frame": "group", "baseline": "top", "offset": -41.2, "lineHeight": 28, "fontSize": 22},
        "data": {"name": "e3"},
        "encoding": {
         "x": {"field": "epoch", "type": "quantitative", "scale": {"domain": [0.6, 3.4], "nice": false, "zero": false}, "axis": {"values": [1, 2, 3], "labelExpr": "datum.value == 1 ? '1st' : datum.value == 2 ? '2nd' : '3rd'", "title": "Epoch in blocks", "labelPadding": 6.5, "titlePadding": 5}},
         "y": {"field": "m", "type": "quantitative", "scale": {"domain": [0.59, 0.75], "nice": false, "zero": false}, "axis": {"values": [0.6, 0.65, 0.7, 0.75], "format": ".2~f", "title": ["Rule selectivity", "(Area under ROC)"], "titleX": -79, "titleY": 160, "titleAngle": -90, "titleBaseline": "bottom", "titleAlign": "center", "titleLineHeight": 22}},
         "color": {"field": "g", "type": "nominal", "scale": {"domain": ["Saline", "CNO"], "range": ["#0000ff", "#ff0000"]}, "legend": {"title": null, "orient": "none", "legendX": 209, "legendY": 61, "symbolType": "M-1.5,0L1.5,0M-0.375,0A0.375,0.375,0,1,1,0.375,0A0.375,0.375,0,1,1,-0.375,0Z", "symbolSize": 357, "symbolStrokeWidth": 2.5, "labelOffset": 12, "rowPadding": 5, "encode": {"symbols": {"update": {"strokeWidth": {"value": 2.5}, "fill": {"signal": "datum.value === 'Saline' ? '#0000ff' : '#ff0000'"}, "stroke": {"signal": "datum.value === 'Saline' ? '#0000ff' : '#ff0000'"}, "opacity": {"value": 1}, "fillOpacity": {"value": 1}}}}}}
        },
        "layer": [
         {"mark": {"type": "line", "strokeWidth": 2.5}},
         {"mark": {"type": "rule", "strokeWidth": 2.5}, "encoding": {"y": {"field": "lo", "type": "quantitative", "scale": {"domain": [0.59, 0.75], "nice": false, "zero": false}}, "y2": {"field": "hi"}}},
         {"mark": {"type": "tick", "orient": "horizontal", "size": 8, "thickness": 2.5, "opacity": 1}, "encoding": {"y": {"field": "lo", "type": "quantitative", "scale": {"domain": [0.59, 0.75], "nice": false, "zero": false}}}},
         {"mark": {"type": "tick", "orient": "horizontal", "size": 8, "thickness": 2.5, "opacity": 1}, "encoding": {"y": {"field": "hi", "type": "quantitative", "scale": {"domain": [0.59, 0.75], "nice": false, "zero": false}}}},
         {"mark": {"type": "point", "filled": true, "size": 45, "opacity": 1}}
        ]
       },
       {
        "width": 317, "height": 317,
        "title": {"text": ["Contralateral choice", "(2 → 1 steps rule)"], "anchor": "middle", "frame": "group", "baseline": "top", "offset": -41.2, "lineHeight": 28, "fontSize": 22},
        "data": {"name": "e4"},
        "encoding": {
         "x": {"field": "epoch", "type": "quantitative", "scale": {"domain": [0.6, 3.4], "nice": false, "zero": false}, "axis": {"values": [1, 2, 3], "labelExpr": "datum.value == 1 ? '1st' : datum.value == 2 ? '2nd' : '3rd'", "title": "Epoch in blocks", "labelPadding": 6.5, "titlePadding": 5}},
         "y": {"field": "m", "type": "quantitative", "scale": {"domain": [0.59, 0.75], "nice": false, "zero": false}, "axis": {"values": [0.6, 0.65, 0.7, 0.75], "format": ".2~f", "title": ["Rule selectivity", "(Area under ROC)"], "titleX": -80, "titleY": 160, "titleAngle": -90, "titleBaseline": "bottom", "titleAlign": "center", "titleLineHeight": 22}},
         "color": {"field": "g", "type": "nominal", "scale": {"domain": ["Saline", "CNO"], "range": ["#0000ff", "#ff0000"]}, "legend": {"title": null, "orient": "none", "legendX": 195, "legendY": 61, "symbolType": "M-1.5,0L1.5,0M-0.375,0A0.375,0.375,0,1,1,0.375,0A0.375,0.375,0,1,1,-0.375,0Z", "symbolSize": 357, "symbolStrokeWidth": 2.5, "labelOffset": 12, "rowPadding": 5, "encode": {"symbols": {"update": {"strokeWidth": {"value": 2.5}, "fill": {"signal": "datum.value === 'Saline' ? '#0000ff' : '#ff0000'"}, "stroke": {"signal": "datum.value === 'Saline' ? '#0000ff' : '#ff0000'"}, "opacity": {"value": 1}, "fillOpacity": {"value": 1}}}}}}
        },
        "layer": [
         {"mark": {"type": "line", "strokeWidth": 2.5}},
         {"mark": {"type": "rule", "strokeWidth": 2.5}, "encoding": {"y": {"field": "lo", "type": "quantitative", "scale": {"domain": [0.59, 0.75], "nice": false, "zero": false}}, "y2": {"field": "hi"}}},
         {"mark": {"type": "tick", "orient": "horizontal", "size": 8, "thickness": 2.5, "opacity": 1}, "encoding": {"y": {"field": "lo", "type": "quantitative", "scale": {"domain": [0.59, 0.75], "nice": false, "zero": false}}}},
         {"mark": {"type": "tick", "orient": "horizontal", "size": 8, "thickness": 2.5, "opacity": 1}, "encoding": {"y": {"field": "hi", "type": "quantitative", "scale": {"domain": [0.59, 0.75], "nice": false, "zero": false}}}},
         {"mark": {"type": "point", "filled": true, "size": 45, "opacity": 1}}
        ]
       }
      ]
     }
    ]
   }
  ]
 }
]
}
